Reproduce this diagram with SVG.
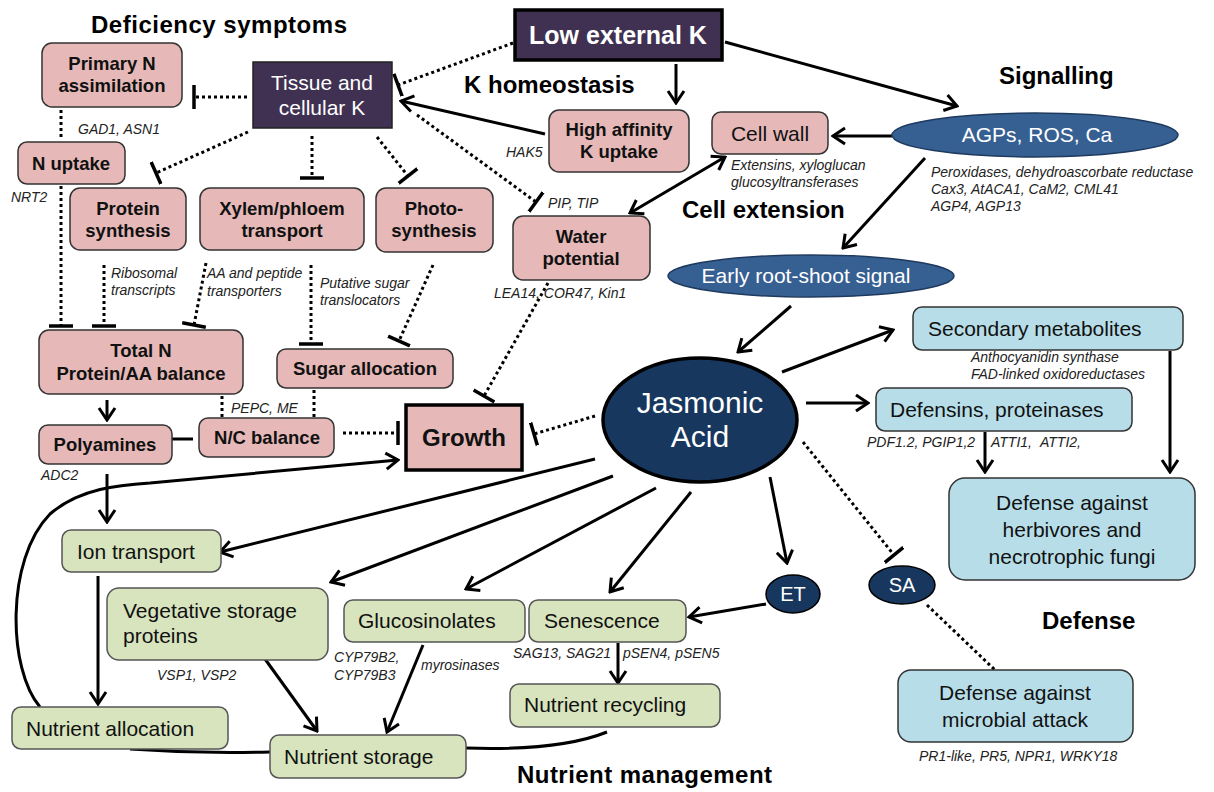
<svg xmlns="http://www.w3.org/2000/svg" width="1214" height="792" viewBox="0 0 1214 792">
<style>
.s{stroke:#000;stroke-width:3;fill:none}
.d{stroke:#000;stroke-width:3;stroke-dasharray:3 3;fill:none}
.pk{fill:#e6b9b8;stroke:#333;stroke-width:1.5}
.gr{fill:#d7e4bd;stroke:#555;stroke-width:1.5}
.bl{fill:#b7dee8;stroke:#333;stroke-width:1.5}
.nv{fill:#17375e;stroke:#000;stroke-width:1.5}
.title{font-family:"Liberation Sans",Arial,sans-serif;font-weight:bold;font-size:24px;fill:#000}
.b{font-family:"Liberation Sans",Arial,sans-serif;font-weight:bold;font-size:18.5px;fill:#111;text-anchor:middle}
.r{font-family:"Liberation Sans",Arial,sans-serif;font-size:21px;fill:#111}
.w{font-family:"Liberation Sans",Arial,sans-serif;font-size:21px;fill:#fff;text-anchor:middle}
.i{font-family:"Liberation Sans",Arial,sans-serif;font-style:italic;font-size:14px;fill:#222}
</style>
<defs>
<marker id="arr" viewBox="0 0 16 20" refX="14" refY="10" markerWidth="16" markerHeight="20" markerUnits="userSpaceOnUse" orient="auto-start-reverse">
<path d="M2 2 L14 10 L2 18" fill="none" stroke="#000" stroke-width="3"/>
</marker>
<marker id="tee" viewBox="0 0 6 24" refX="3" refY="12" markerWidth="6" markerHeight="24" markerUnits="userSpaceOnUse" orient="auto">
<path d="M3 0 V24" fill="none" stroke="#000" stroke-width="3.5"/>
</marker>
</defs>

<!-- titles -->
<text class="title" x="91" y="33" textLength="256" lengthAdjust="spacing">Deficiency symptoms</text>
<text class="title" x="464" y="93">K homeostasis</text>
<text class="title" x="999" y="84">Signalling</text>
<text class="title" x="682" y="218">Cell extension</text>
<text class="title" x="1042" y="629">Defense</text>
<text class="title" x="517" y="783" textLength="255" lengthAdjust="spacing">Nutrient management</text>

<g id="connectors">
<path class="d" d="M513 43 L398 85" marker-end="url(#tee)"/>
<path class="d" d="M247 97 L194 97" marker-end="url(#tee)"/>
<path class="d" d="M417 115 L536 202" marker-end="url(#tee)"/>
<path class="d" d="M248 132 L156 173" marker-end="url(#tee)"/>
<path class="d" d="M312 136 L312 178" marker-end="url(#tee)"/>
<path class="d" d="M377 137 L408 176" marker-end="url(#tee)"/>
<path class="d" d="M61 110 L61 140"/>
<path class="d" d="M61 186 L61 326" marker-end="url(#tee)"/>
<path class="d" d="M104 265 L104 326" marker-end="url(#tee)"/>
<path class="d" d="M206 263 L194 325" marker-end="url(#tee)"/>
<path class="d" d="M311 265 L311 344" marker-end="url(#tee)"/>
<path class="d" d="M433 265 L399 341" marker-end="url(#tee)"/>
<path class="d" d="M548 283 L484 396" marker-end="url(#tee)"/>
<path class="d" d="M595 416 L534 434" marker-end="url(#tee)"/>
<path class="d" d="M343 433 L398 433" marker-end="url(#tee)"/>
<path class="d" d="M222 396 L222 417"/>
<path class="d" d="M314 390 L314 417"/>
<path class="d" d="M803 442 L894 555" marker-end="url(#tee)"/>
<path class="d" d="M927 605 L995 670"/>
<path class="s" d="M172 439 L193 439"/>
<path class="s" d="M545 134 L401 101" marker-end="url(#arr)"/>
<path class="s" d="M676 64 L676 103" marker-end="url(#arr)"/>
<path class="s" d="M725 42 L957 106" marker-end="url(#arr)"/>
<path class="s" d="M892 136 L833 136" marker-end="url(#arr)"/>
<path class="s" d="M725 157 L630 213" marker-start="url(#arr)" marker-end="url(#arr)"/>
<path class="s" d="M925 158 L843 248" marker-end="url(#arr)"/>
<path class="s" d="M791 306 L738 352" marker-end="url(#arr)"/>
<path class="s" d="M782 372 L893 330" marker-end="url(#arr)"/>
<path class="s" d="M806 403 L868 403" marker-end="url(#arr)"/>
<path class="s" d="M985 432 L985 472" marker-end="url(#arr)"/>
<path class="s" d="M1170 351 L1170 472" marker-end="url(#arr)"/>
<path class="s" d="M107 400 L107 420" marker-end="url(#arr)"/>
<path class="s" d="M107 474 L107 522" marker-end="url(#arr)"/>
<path class="s" d="M40 707 C8 670 5 560 50 514 C80 488 120 485 150 483 L398 460" marker-end="url(#arr)"/>
<path class="s" d="M595 459 L220 552" marker-end="url(#arr)"/>
<path class="s" d="M613 476 L331 582" marker-end="url(#arr)"/>
<path class="s" d="M656 488 L466 589" marker-end="url(#arr)"/>
<path class="s" d="M691 492 L610 592" marker-end="url(#arr)"/>
<path class="s" d="M770 477 L787 563" marker-end="url(#arr)"/>
<path class="s" d="M766 604 L689 617" marker-end="url(#arr)"/>
<path class="s" d="M98 576 L98 704" marker-end="url(#arr)"/>
<path class="s" d="M265 659 L317 731" marker-end="url(#arr)"/>
<path class="s" d="M423 645 L387 732" marker-end="url(#arr)"/>
<path class="s" d="M618 643 L618 683" marker-end="url(#arr)"/>
<path class="s" d="M130 749 Q200 754 270 752"/>
<path class="s" d="M607 732 Q560 751 466 748"/>
</g>

<g id="low-external-k">
<rect x="515" y="10" width="207" height="50" fill="#403152" stroke="#000" stroke-width="3.5"/>
<text class="w" x="618" y="44" style="font-weight:bold;font-size:25px">Low external K</text>
</g>
<g id="tissue-k">
<rect x="253" y="62" width="139" height="66" fill="#403152" stroke="#222" stroke-width="1.5"/>
<text class="w" x="322" y="90">Tissue and</text>
<text class="w" x="322" y="115">cellular K</text>
</g>
<g id="primary-n">
<rect class="pk" x="42" y="43" width="140" height="64" rx="10"/>
<text class="b" x="112" y="70">Primary N</text>
<text class="b" x="112" y="92">assimilation</text>
</g>
<g id="n-uptake">
<rect class="pk" x="18" y="142" width="107" height="42" rx="9"/>
<text class="b" x="71" y="170">N uptake</text>
</g>
<g id="protein-synthesis">
<rect class="pk" x="70" y="188" width="116" height="62" rx="10"/>
<text class="b" x="128" y="215">Protein</text>
<text class="b" x="128" y="237">synthesis</text>
</g>
<g id="xylem">
<rect class="pk" x="200" y="188" width="164" height="62" rx="10"/>
<text class="b" x="282" y="215">Xylem/phloem</text>
<text class="b" x="282" y="237">transport</text>
</g>
<g id="photosynthesis">
<rect class="pk" x="376" y="188" width="117" height="64" rx="10"/>
<text class="b" x="434" y="215">Photo-</text>
<text class="b" x="434" y="237">synthesis</text>
</g>
<g id="water-potential">
<rect class="pk" x="513" y="216" width="137" height="64" rx="10"/>
<text class="b" x="581" y="243">Water</text>
<text class="b" x="581" y="265">potential</text>
</g>
<g id="high-affinity">
<rect class="pk" x="549" y="110" width="140" height="62" rx="10"/>
<text class="b" x="619" y="136">High affinity</text>
<text class="b" x="619" y="158">K uptake</text>
</g>
<g id="cell-wall">
<rect class="pk" x="712" y="112" width="116" height="42" rx="9"/>
<text class="r" x="770" y="141" text-anchor="middle">Cell wall</text>
</g>
<g id="agps">
<ellipse cx="1035" cy="135" rx="143" ry="22" fill="#376092" stroke="#1f3a5f" stroke-width="1.5"/>
<text class="w" x="1037" y="142">AGPs, ROS, Ca</text>
</g>
<g id="early-signal">
<ellipse cx="811" cy="276" rx="143" ry="21" fill="#376092" stroke="#1f3a5f" stroke-width="1.5"/>
<text class="w" x="806" y="283">Early root-shoot signal</text>
</g>
<g id="jasmonic-acid">
<ellipse cx="700" cy="420" rx="97" ry="62" fill="#17375e" stroke="#000" stroke-width="3.5"/>
<text class="w" x="700" y="413" style="font-size:30px">Jasmonic</text>
<text class="w" x="700" y="447" style="font-size:30px">Acid</text>
</g>
<g id="growth">
<rect x="406" y="405" width="116" height="65" fill="#e6b9b8" stroke="#000" stroke-width="3.5"/>
<text class="b" x="464" y="446" style="font-size:24px">Growth</text>
</g>
<g id="total-n">
<rect class="pk" x="39" y="330" width="204" height="64" rx="10"/>
<text class="b" x="141" y="357">Total N</text>
<text class="b" x="141" y="380">Protein/AA balance</text>
</g>
<g id="sugar-allocation">
<rect class="pk" x="277" y="349" width="176" height="39" rx="9"/>
<text class="b" x="365" y="375">Sugar allocation</text>
</g>
<g id="polyamines">
<rect class="pk" x="39" y="425" width="133" height="39" rx="9"/>
<text class="b" x="105" y="451">Polyamines</text>
</g>
<g id="nc-balance">
<rect class="pk" x="199" y="418" width="135" height="39" rx="9"/>
<text class="b" x="267" y="444">N/C balance</text>
</g>
<g id="ion-transport">
<rect class="gr" x="62" y="530" width="159" height="42" rx="9"/>
<text class="r" x="77" y="559">Ion transport</text>
</g>
<g id="vsp">
<rect class="gr" x="107" y="588" width="221" height="72" rx="12"/>
<text class="r" x="123" y="618">Vegetative storage</text>
<text class="r" x="123" y="643">proteins</text>
</g>
<g id="glucosinolates">
<rect class="gr" x="344" y="600" width="181" height="42" rx="9"/>
<text class="r" x="358" y="628">Glucosinolates</text>
</g>
<g id="senescence">
<rect class="gr" x="529" y="600" width="157" height="42" rx="9"/>
<text class="r" x="544" y="628">Senescence</text>
</g>
<g id="nutrient-recycling">
<rect class="gr" x="510" y="684" width="210" height="43" rx="9"/>
<text class="r" x="524" y="712">Nutrient recycling</text>
</g>
<g id="nutrient-allocation">
<rect class="gr" x="12" y="707" width="216" height="42" rx="9"/>
<text class="r" x="26" y="736">Nutrient allocation</text>
</g>
<g id="nutrient-storage">
<rect class="gr" x="270" y="735" width="196" height="43" rx="9"/>
<text class="r" x="284" y="764">Nutrient storage</text>
</g>
<g id="et">
<ellipse class="nv" cx="793" cy="594" rx="27" ry="19"/>
<text class="w" x="793" y="601" style="font-size:20px">ET</text>
</g>
<g id="sa">
<ellipse class="nv" cx="902" cy="585" rx="33" ry="19"/>
<text class="w" x="902" y="592" style="font-size:20px">SA</text>
</g>
<g id="secondary-metabolites">
<rect class="bl" x="913" y="307" width="270" height="43" rx="9"/>
<text class="r" x="928" y="336">Secondary metabolites</text>
</g>
<g id="defensins">
<rect class="bl" x="876" y="388" width="256" height="43" rx="9"/>
<text class="r" x="890" y="417">Defensins, proteinases</text>
</g>
<g id="defense-herbivores">
<rect class="bl" x="949" y="478" width="246" height="102" rx="16"/>
<text class="r" x="1072" y="510" text-anchor="middle">Defense against</text>
<text class="r" x="1072" y="537" text-anchor="middle">herbivores and</text>
<text class="r" x="1072" y="564" text-anchor="middle">necrotrophic fungi</text>
</g>
<g id="defense-microbial">
<rect class="bl" x="898" y="670" width="235" height="72" rx="13"/>
<text class="r" x="1015" y="700" text-anchor="middle">Defense against</text>
<text class="r" x="1015" y="727" text-anchor="middle">microbial attack</text>
</g>

<g id="labels">
<text class="i" x="78" y="134">GAD1, ASN1</text>
<text class="i" x="11" y="202">NRT2</text>
<text class="i" x="111" y="278">Ribosomal</text>
<text class="i" x="111" y="295">transcripts</text>
<text class="i" x="207" y="278">AA and peptide</text>
<text class="i" x="207" y="296">transporters</text>
<text class="i" x="320" y="288">Putative sugar</text>
<text class="i" x="320" y="305">translocators</text>
<text class="i" x="231" y="413">PEPC, ME</text>
<text class="i" x="41" y="480">ADC2</text>
<text class="i" x="506" y="157">HAK5</text>
<text class="i" x="731" y="170">Extensins, xyloglucan</text>
<text class="i" x="731" y="187">glucosyltransferases</text>
<text class="i" x="548" y="208">PIP, TIP</text>
<text class="i" x="494" y="298">LEA14, COR47, Kin1</text>
<text class="i" x="931" y="177">Peroxidases, dehydroascorbate reductase</text>
<text class="i" x="931" y="194">Cax3, AtACA1, CaM2, CML41</text>
<text class="i" x="931" y="211">AGP4, AGP13</text>
<text class="i" x="971" y="362">Anthocyanidin synthase</text>
<text class="i" x="971" y="379">FAD-linked oxidoreductases</text>
<text class="i" x="867" y="447">PDF1.2, PGIP1,2</text>
<text class="i" x="991" y="447">ATTI1,</text>
<text class="i" x="1040" y="447">ATTI2,</text>
<text class="i" x="157" y="680">VSP1, VSP2</text>
<text class="i" x="334" y="662">CYP79B2,</text>
<text class="i" x="334" y="680">CYP79B3</text>
<text class="i" x="421" y="670">myrosinases</text>
<text class="i" x="513" y="658">SAG13, SAG21</text>
<text class="i" x="623" y="658">pSEN4, pSEN5</text>
<text class="i" x="919" y="761">PR1-like, PR5, NPR1, WRKY18</text>
</g>
</svg>
